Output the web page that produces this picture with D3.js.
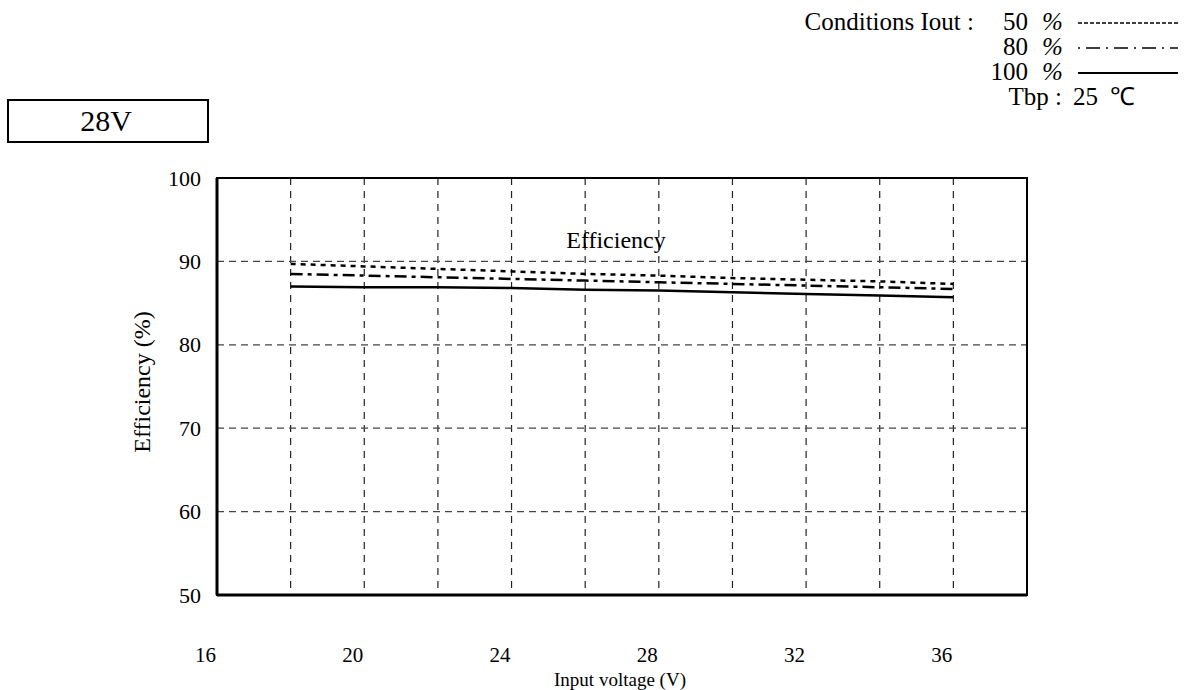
<!DOCTYPE html>
<html><head><meta charset="utf-8">
<script src="https://cdn.jsdelivr.net/npm/d3@7"></script>
<style>body{margin:0;background:#fff}svg{display:block}text{font-family:"Liberation Serif","Times New Roman",serif;fill:#000}</style>
</head><body><svg id="c" width="1191" height="690"></svg>
<script>
const voltages = [18, 20, 22, 24, 26, 28, 30, 32, 34, 36];
const eff50  = [89.7, 89.4, 89.1, 88.8, 88.5, 88.3, 88.0, 87.8, 87.6, 87.3];
const eff80  = [88.5, 88.3, 88.1, 87.9, 87.7, 87.5, 87.3, 87.1, 86.9, 86.7];
const eff100 = [87.0, 86.9, 86.9, 86.8, 86.6, 86.5, 86.3, 86.1, 85.9, 85.7];
const xTicks = [16, 20, 24, 28, 32, 36];
const yTicks = [50, 60, 70, 80, 90, 100];
const xGrid = [18, 20, 22, 24, 26, 28, 30, 32, 34, 36];
const yGrid = [60, 70, 80, 90];
const seriesNames = ["50", "80", "100"];

const svg = d3.select("#c");
const x = d3.scaleLinear().domain([16, 38]).range([217, 1027]);
const y = d3.scaleLinear().domain([50, 100]).range([595, 178]);

// grid
svg.append("g").selectAll("line").data(xGrid).join("line")
  .attr("x1", d => x(d)).attr("x2", d => x(d)).attr("y1", y(100)).attr("y2", y(50))
  .attr("stroke", "#222").attr("stroke-width", 1.2).attr("stroke-dasharray", "7,6");
svg.append("g").selectAll("line").data(yGrid).join("line")
  .attr("x1", x(16)).attr("x2", x(38)).attr("y1", d => y(d)).attr("y2", d => y(d))
  .attr("stroke", "#444").attr("stroke-width", 1.2).attr("stroke-dasharray", "7,5");

// axes (labels only)
const xAxis = d3.axisBottom(x).tickValues(xTicks).tickSize(0).tickPadding(0).tickFormat(d3.format("d"));
const gx = svg.append("g").attr("transform", `translate(-12,${y(50) + 52})`).call(xAxis);
gx.select(".domain").remove();
gx.selectAll("text").attr("font-size", 21).attr("font-family", "Liberation Serif").attr("fill", "#000").attr("dy", "0.71em");

const yAxis = d3.axisLeft(y).tickValues(yTicks).tickSize(0).tickPadding(0).tickFormat(d3.format("d"));
const gy = svg.append("g").attr("transform", `translate(${x(16) - 16},0)`).call(yAxis);
gy.select(".domain").remove();
gy.selectAll("text").attr("font-size", 22).attr("font-family", "Liberation Serif").attr("fill", "#000");

// frame
svg.append("rect").attr("x", x(16)).attr("y", y(100)).attr("width", x(38) - x(16)).attr("height", y(50) - y(100))
  .attr("fill", "none").attr("stroke", "#000").attr("stroke-width", 2);
svg.append("line").attr("x1", x(16)).attr("x2", x(16)).attr("y1", y(100)).attr("y2", y(50)).attr("stroke", "#000").attr("stroke-width", 3);
svg.append("line").attr("x1", x(16)).attr("x2", x(38)).attr("y1", y(50)).attr("y2", y(50)).attr("stroke", "#000").attr("stroke-width", 3);

// series
const styles = {"50": "5,5", "80": "12,5,4,5", "100": null};
const data = {"50": eff50, "80": eff80, "100": eff100};
const line = d3.line().x((d, i) => x(voltages[i])).y(d => y(d));
seriesNames.forEach(k => {
  svg.append("path").datum(data[k]).attr("d", line).attr("fill", "none")
    .attr("stroke", "#000").attr("stroke-width", 2.5)
    .attr("stroke-dasharray", styles[k]);
});

// inner label
svg.append("text").attr("x", 616).attr("y", 248).attr("text-anchor", "middle").attr("font-size", 24).text("Efficiency");

// axis titles
svg.append("text").attr("x", 620).attr("y", 686).attr("text-anchor", "middle").attr("font-size", 19).text("Input voltage (V)");
svg.append("text").attr("transform", "translate(150,382) rotate(-90)").attr("text-anchor", "middle").attr("font-size", 24).text("Efficiency (%)");

// 28V box
svg.append("rect").attr("x", 8).attr("y", 100).attr("width", 200).attr("height", 42).attr("fill", "none").attr("stroke", "#000").attr("stroke-width", 2);
svg.append("text").attr("x", 106).attr("y", 131).attr("text-anchor", "middle").attr("font-size", 30).text("28V");

// legend
const lg = svg.append("g");
const fs = 25;
lg.append("text").attr("x", 974).attr("y", 30).attr("text-anchor", "end").attr("font-size", fs).text("Conditions Iout :");
const rows = [{k: "50", y: 30}, {k: "80", y: 55}, {k: "100", y: 80}];
rows.forEach(r => {
  lg.append("text").attr("x", 1028).attr("y", r.y).attr("text-anchor", "end").attr("font-size", fs).text(r.k);
  lg.append("text").attr("x", 1042).attr("y", r.y).attr("font-size", fs).attr("font-style", "italic").text("%");
  lg.append("line").attr("x1", 1078).attr("x2", 1178).attr("y1", r.y - 7).attr("y2", r.y - 7)
    .attr("stroke", "#000").attr("stroke-width", r.k === "100" ? 2 : 1.5)
    .attr("stroke-dasharray", r.k === "50" ? "4,2" : (r.k === "80" ? "2,6,14,6" : null));
});
lg.append("text").attr("x", 1062).attr("y", 105).attr("text-anchor", "end").attr("font-size", fs).text("Tbp :");
lg.append("text").attr("x", 1073).attr("y", 105).attr("font-size", fs).text("25");
lg.append("text").attr("x", 1110).attr("y", 105).attr("font-size", fs).text("℃");
</script></body></html>
